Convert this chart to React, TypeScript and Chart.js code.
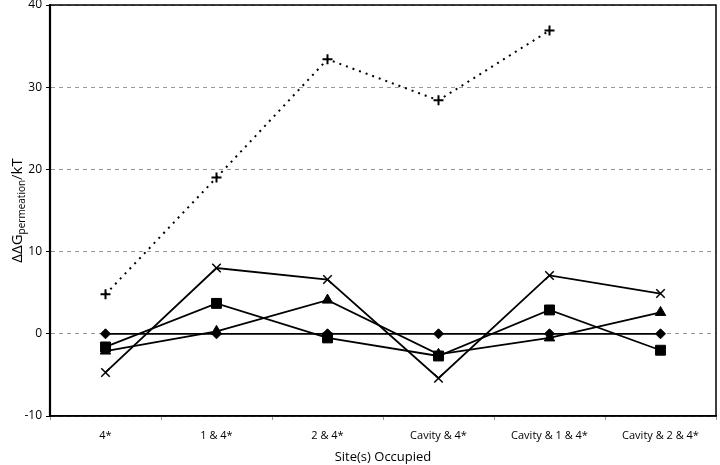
import React, { useEffect, useRef } from "react";
import { Chart, registerables } from "chart.js";

Chart.register(...registerables);

const categories = ["4*", "1 & 4*", "2 & 4*", "Cavity & 4*", "Cavity & 1 & 4*", "Cavity & 2 & 4*"];
const diamondSeries = [0, 0, 0, 0, 0, 0];
const squareSeries = [-1.6, 3.7, -0.5, -2.7, 2.9, -2.0];
const triangleSeries = [-2.1, 0.3, 4.1, -2.5, -0.5, 2.6];
const crossSeries = [-4.7, 8.0, 6.6, -5.4, 7.1, 4.9];
const plusSeries: (number | null)[] = [4.8, 19.0, 33.4, 28.4, 36.9, null];
const yTicks = [-10, 0, 10, 20, 30, 40];

const FONT = "'Open Sans', 'Noto Sans', sans-serif";

const framePlugin = {
  id: "frame",
  afterDraw(chart: any) {
    const { ctx, chartArea } = chart;
    ctx.save();
    ctx.setLineDash([]);
    ctx.strokeStyle = "#000";
    ctx.lineWidth = 1.5;
    ctx.strokeRect(chartArea.left, chartArea.top, chartArea.right - chartArea.left, chartArea.bottom - chartArea.top);
    ctx.lineWidth = 2.2;
    ctx.beginPath();
    ctx.moveTo(chartArea.left, chartArea.top);
    ctx.lineTo(chartArea.left, chartArea.bottom);
    ctx.stroke();
    // y title with subscript
    const cy = (chartArea.top + chartArea.bottom) / 2;
    ctx.translate(17, cy);
    ctx.rotate(-Math.PI / 2);
    ctx.fillStyle = "#000";
    ctx.textBaseline = "alphabetic";
    const big = "15px " + FONT;
    const small = "10px " + FONT;
    const parts = [
      { t: "ΔΔG", f: big, dy: 0 },
      { t: "permeation", f: small, dy: 3 },
      { t: "/kT", f: big, dy: 0 },
    ];
    let total = 0;
    parts.forEach((p) => {
      ctx.font = p.f;
      total += ctx.measureText(p.t).width;
    });
    let x = -total / 2;
    parts.forEach((p) => {
      ctx.font = p.f;
      ctx.fillText(p.t, x, 5 + p.dy);
      x += ctx.measureText(p.t).width;
    });
    ctx.restore();
  },
};

export default function App() {
  const ref = useRef<HTMLCanvasElement | null>(null);
  useEffect(() => {
    if (!ref.current) return;
    const common = {
      borderColor: "#000",
      backgroundColor: "#000",
      pointBackgroundColor: "#000",
      pointBorderColor: "#000",
      borderWidth: 1.8,
      tension: 0,
      fill: false,
    };
    const chart = new Chart(ref.current, {
      type: "line",
      data: {
        labels: categories,
        datasets: [
          { ...common, label: "diamond", data: diamondSeries, pointStyle: "rectRot", pointRadius: 5, pointBorderWidth: 1 },
          { ...common, label: "square", data: squareSeries, pointStyle: "rect", pointRadius: 7, pointBorderWidth: 1 },
          { ...common, label: "triangle", data: triangleSeries, pointStyle: "triangle", pointRadius: 6, pointBorderWidth: 1 },
          { ...common, label: "cross", data: crossSeries, pointStyle: "crossRot", pointRadius: 6, pointBorderWidth: 1.5 },
          { ...common, label: "plus", data: plusSeries, pointStyle: "cross", pointRadius: 5, pointBorderWidth: 2, borderDash: [2, 5], borderWidth: 2, spanGaps: false },
        ],
      },
      options: {
        responsive: false,
        animation: false,
        layout: { autoPadding: false, padding: { top: 5, right: 4, left: 0, bottom: 0 } },
        plugins: { legend: { display: false }, tooltip: { enabled: false } },
        scales: {
          x: {
            type: "category",
            offset: true,
            afterFit(scale: any) {
              scale.height = 49;
              scale.paddingLeft = 0;
              scale.paddingRight = 0;
            },
            grid: {
              offset: true,
              drawOnChartArea: false,
              drawTicks: true,
              tickLength: 4,
              tickColor: "#999",
            },
            border: { display: true, color: "#000", width: 1.5 },
            ticks: { color: "#000", font: { family: FONT, size: 11 }, padding: 9, maxRotation: 0, autoSkip: false },
            title: { display: true, text: "Site(s) Occupied", color: "#000", font: { family: FONT, size: 13 }, padding: { top: 2, bottom: 0 } },
          },
          y: {
            min: -10,
            max: 40,
            afterFit(scale: any) {
              scale.width = 50;
              scale.paddingTop = 0;
              scale.paddingBottom = 0;
            },
            afterBuildTicks(scale: any) {
              scale.ticks = yTicks.map((v) => ({ value: v }));
            },
            grid: {
              display: true,
              drawOnChartArea: true,
              color: "#9a9a9a",
              lineWidth: 1,
              drawTicks: true,
              tickLength: 4,
              tickColor: "#000",
              tickBorderDash: [0, 0],
            },
            border: { display: true, color: "#000", width: 2, dash: [4, 4] },
            ticks: { color: "#000", font: { family: FONT, size: 12 }, padding: 4 },
          },
        },
      },
      plugins: [framePlugin],
    } as any);
    return () => chart.destroy();
  }, []);
  return (
    <div style={{ position: "absolute", left: 0, top: 0, width: 720, height: 465, background: "#fff" }}>
      <canvas ref={ref} width={720} height={465} />
    </div>
  );
}
